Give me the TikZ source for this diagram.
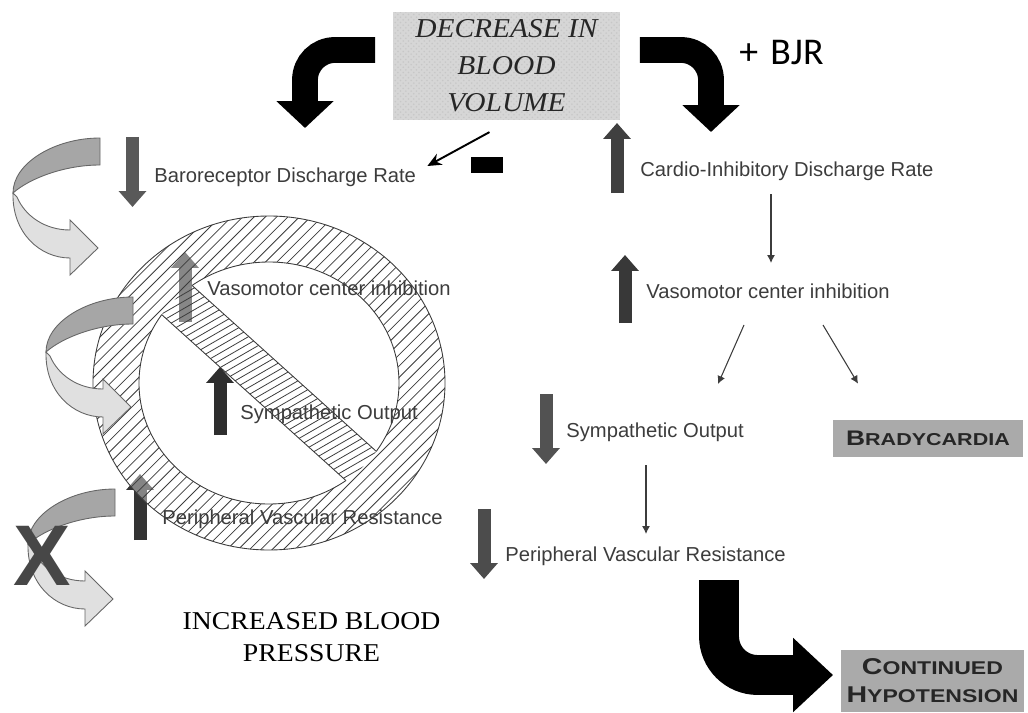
\documentclass[tikz,border=0pt]{standalone}
\usepackage{fontspec}
\setmainfont{Liberation Sans}
\newfontfamily\headfont[FakeStretch=1.08]{Liberation Serif}
\newfontfamily\bjrfont{Carlito}
\newfontfamily\capsfont[FakeStretch=1.25]{Liberation Sans}
\usetikzlibrary{arrows.meta, calc, patterns}
\definecolor{lblgray}{RGB}{60, 60, 60}
\definecolor{boxgray}{RGB}{214, 214, 214}
\definecolor{capgray}{RGB}{170, 170, 170}
\definecolor{ribdark}{RGB}{166, 166, 166}
\definecolor{riblight}{RGB}{224, 224, 224}
\definecolor{hatchgray}{RGB}{60, 60, 60}

\begin{document}
\begin{tikzpicture}[x=0.02cm, y=-0.02cm,
        lbl/.style={anchor=base west, inner sep=0pt, text=lblgray, font=\fontsize{11.5}{13}\selectfont},
        capbox/.style={fill=capgray, inner sep=0pt, align=center, text=black!85},
        blockarr/.style={draw=black, line width=14.7pt, rounded corners=17pt, -{Triangle[length=15.3pt, width=31.7pt]}},
        bigarr/.style={draw=black, line width=22.7pt, rounded corners=22pt, -{Triangle[length=22.7pt, width=40.8pt]}},
        levelarr/.style={line width=7.4pt, -{Triangle[length=9.1pt, width=15.3pt]}},
        thinarr/.style={draw=lblgray, line width=0.6pt, -{Latex[length=4.5pt, width=4.5pt]}},
        hatch/.style={draw=hatchgray, line width=0.45pt},
        ringline/.style={draw=hatchgray, line width=0.5pt},
        ribbon/.style={draw=black!60, line width=0.5pt}
    ]
    \useasboundingbox (0,0) rectangle (1028,713);

    % start of the cascade
    \node[preaction={fill=boxgray}, pattern=crosshatch dots, pattern color=black!22, minimum width=128.7pt, minimum height=61.2pt,
        inner sep=0pt, align=center, text=black!85, font=\headfont\itshape\fontsize{15.5}{21}\selectfont] (dbv) at (506.5,66)
        {DECREASE IN\\BLOOD\\VOLUME};
    \node[anchor=base west, inner sep=0pt, font=\bjrfont\fontsize{21.5}{24}\selectfont] (bjr) at (739,65) {+\hspace{7pt}BJR};
    \coordinate (lefttip) at (305,128);
    \coordinate (righttip) at (711,132);
    \draw[blockarr] ($(dbv.west)+(-18,-16)$) -| (lefttip);
    \draw[blockarr] ($(dbv.east)+(20,-16)$) -| (righttip);

    % up and down markers
    \draw[levelarr, draw=black!65] (132.5,137) -- (132.5,207);
    \draw[levelarr, draw=black!78] (185,322) -- (185,252);
    \draw[levelarr, draw=black!82] (220,435) -- (220,367);
    \draw[levelarr, draw=black!80] (140,540) -- (140,474);
    \draw[levelarr, draw=black!75] (617,193) -- (617,123);
    \draw[levelarr, draw=black!78] (625,323) -- (625,255);
    \draw[levelarr, draw=black!68] (546,394) -- (546,464);
    \draw[levelarr, draw=black!70] (484,509) -- (484,579);

    % blocked reflex, light overlay
    \fill[white, opacity=0.4, even odd rule] (269,383) ellipse [x radius=176, y radius=167] (269,383) ellipse [x radius=130, y radius=121];
    \begin{scope}
        \clip (269,383) ellipse [x radius=130, y radius=121];
        \fill[white, opacity=0.4, rotate around={-42:(269,383)}] (69,362) rectangle (469,404);
    \end{scope}

    % labels
    \node[lbl] (baro) at (154,182) {Baroreceptor Discharge Rate};
    \node[lbl] (vasoL) at (207,295) {Vasomotor center inhibition};
    \node[lbl] (symL) at (240,419) {Sympathetic Output};
    \node[lbl] (pvrL) at (162,524) {Peripheral Vascular Resistance};
    \node[lbl] (cardio) at (640,176) {Cardio-Inhibitory Discharge Rate};
    \node[lbl] (vasoR) at (646,298) {Vasomotor center inhibition};
    \node[lbl] (symR) at (566,437) {Sympathetic Output};
    \node[lbl] (pvrR) at (505,561) {Peripheral Vascular Resistance};
    \node[capbox, minimum width=107.7pt, minimum height=21pt, font=\capsfont\bfseries\fontsize{9.8}{12}\selectfont] (brady) at (928,438.5)
        {{\fontsize{12}{12}\selectfont B}RADYCARDIA};
    \node[capbox, minimum width=103.7pt, minimum height=35.2pt, font=\capsfont\bfseries\fontsize{10.5}{15.9}\selectfont] (hypo) at (932.5,681)
        {{\fontsize{13}{13}\selectfont C}ONTINUED\\{\fontsize{13}{13}\selectfont H}YPOTENSION};
    \node[inner sep=0pt, align=center, text=black, font=\headfont\fontsize{14.6}{18.1}\selectfont] (ibp) at (311.5,637) {INCREASED BLOOD\\PRESSURE};
    \node[fill=black, minimum width=18.1pt, minimum height=9.1pt, inner sep=0pt] (minus) at (487,165) {};

    % connectors
    \draw[line width=1.1pt, -{Stealth[length=8pt, width=7pt]}] ($(dbv.south)+(-17,12)$) -- ($(baro.base east)+(11,-16)$);
    \draw[thinarr] ($(cardio.base west)+(131,18)$) -- ($(vasoR.base west)+(125,-35)$);
    \draw[thinarr] ($(vasoR.base west)+(98,27)$) -- ($(symR.base west)+(152,-53)$);
    \draw[thinarr] ($(vasoR.base west)+(177,27)$) -- ($(brady.north west)+(25,-36)$);
    \draw[thinarr] ($(symR.base west)+(80,28)$) -- ($(pvrR.base west)+(141,-27)$);
    \draw[bigarr] ($(pvrR.base west)+(214,19)$) |- ($(hypo.west)+(-8,-6)$);

    % hatching of the ring and the bar
    \begin{scope}[even odd rule]
        \clip (269,383) ellipse [x radius=176, y radius=167] (269,383) ellipse [x radius=130, y radius=121];
        \foreach \k in {-25,...,25}
            \draw[hatch, rotate around={45:(269,383)}] (69,{383+(\k)*8}) -- (469,{383+(\k)*8});
    \end{scope}
    \begin{scope}
        \clip (269,383) ellipse [x radius=130, y radius=121];
        \clip[rotate around={-42:(269,383)}] (69,362) rectangle (469,404);
        \foreach \k in {-26,...,26}
            \draw[hatch, rotate around={30:(269,383)}] (69,{383+(\k)*6.3}) -- (469,{383+(\k)*6.3});
    \end{scope}
    \draw[ringline] (269,383) ellipse [x radius=176, y radius=167];
    \begin{scope}[even odd rule]
        \clip[rotate around={-42:(269,383)}] (-300,-300) rectangle (900,1100) (69,362) rectangle (469,404);
        \draw[ringline] (269,383) ellipse [x radius=130, y radius=121];
    \end{scope}
    \begin{scope}
        \clip (269,383) ellipse [x radius=130, y radius=121];
        \draw[ringline, rotate around={-42:(269,383)}] (69,362) -- (469,362) (69,404) -- (469,404);
    \end{scope}

    % feedback ribbons
    \foreach \tx/\ty in {100/138, 133/297, 115/489}{
        \begin{scope}[shift={(\tx,\ty)}]
            \filldraw[ribbon, fill=riblight] (-87,55) .. controls (-88,95) and (-60,120) .. (-30,120) -- (-30,137) -- (-2,110)
                -- (-30,82) -- (-30,92) .. controls (-55,92) and (-75,78) .. (-83,59) -- cycle;
            \filldraw[ribbon, fill=ribdark] (0,0) .. controls (-45,0) and (-87,25) .. (-87,55)
                .. controls (-70,40) and (-35,27) .. (0,27) -- cycle;
        \end{scope}
    }
    \node[inner sep=0pt, text=black!72, font=\bfseries\fontsize{49}{49}\selectfont] (nox) at (42,556) {X};
\end{tikzpicture}
\end{document}
